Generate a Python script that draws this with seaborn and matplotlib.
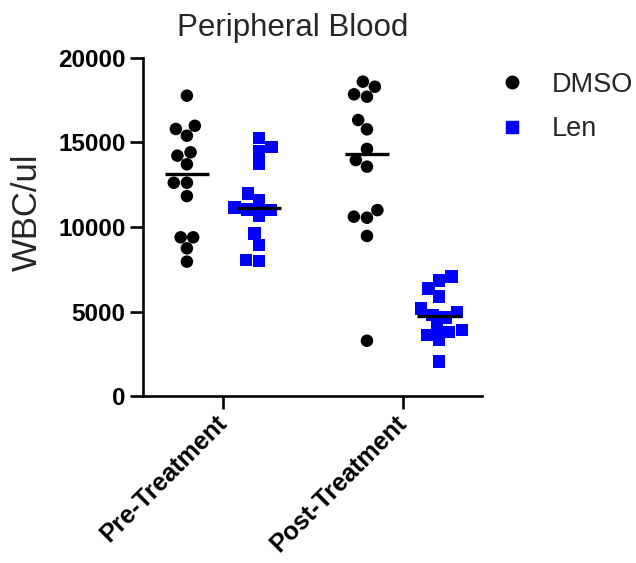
import matplotlib
matplotlib.use("Agg")
import matplotlib.pyplot as plt
from matplotlib.lines import Line2D
import numpy as np
import pandas as pd
import seaborn as sns

# White blood cell counts per mouse (cells/ul)
timepoints = ["Pre-Treatment", "Post-Treatment"]
groups = ["DMSO", "Len"]
group_colors = {"DMSO": "#000000", "Len": "#0000FF"}
group_markers = {"DMSO": "o", "Len": "s"}

pre_dmso = [17770, 15990, 15800, 15400, 14420, 14220, 13710,
            12620, 12620, 11830, 9390, 9390, 8740, 7950]
post_dmso = [18600, 18300, 17850, 17710, 16330, 15780, 14620,
             13960, 13570, 11000, 10610, 10550, 9470, 3270]
pre_len = [15270, 14730, 14500, 13750, 11970, 11580, 11150,
           11050, 11000, 10690, 9630, 8930, 8050, 7990]
post_len = [7080, 6820, 6350, 5900, 5170, 4970, 4790,
            4650, 4070, 3900, 3800, 3610, 3330, 2030]

y_ticks = [0, 5000, 10000, 15000, 20000]

records = []
for tp, grp, vals in [("Pre-Treatment", "DMSO", pre_dmso),
                      ("Post-Treatment", "DMSO", post_dmso),
                      ("Pre-Treatment", "Len", pre_len),
                      ("Post-Treatment", "Len", post_len)]:
    for v in vals:
        records.append({"time": tp, "group": grp, "wbc": v})
df = pd.DataFrame(records)

sns.set_style("ticks")
plt.rcParams["font.family"] = ["Liberation Sans", "DejaVu Sans"]

fig = plt.figure(figsize=(6.36, 5.63), dpi=100)
ax = fig.add_axes([0.2248, 0.2966, 0.7579 - 0.2248, 0.897 - 0.2966])

# individual animals as a dodged swarm, one marker shape per group
for grp in groups:
    sns.swarmplot(data=df[df["group"] == grp], x="time", y="wbc",
                  hue="group", order=timepoints, hue_order=groups,
                  palette=group_colors, dodge=True, marker=group_markers[grp],
                  size=9, linewidth=0, legend=False, ax=ax, zorder=3)

# median bar for each group
sns.boxplot(data=df, x="time", y="wbc", hue="group", order=timepoints,
            hue_order=groups, palette=group_colors, dodge=True, gap=0.39,
            showfliers=False, showcaps=False, whis=0,
            boxprops={"visible": False}, whiskerprops={"visible": False},
            medianprops={"color": "black", "linewidth": 2.4, "zorder": 10},
            legend=False, ax=ax)

ax.set_xlim(-0.444, 1.439)
ax.set_ylim(0, 20000)
ax.set_yticks(y_ticks)
ax.set_yticklabels([str(t) for t in y_ticks])
ax.set_xlabel("")
ax.set_ylabel("")

for side in ["top", "right"]:
    ax.spines[side].set_visible(False)
for side in ["left", "bottom"]:
    ax.spines[side].set_linewidth(1.9)
    ax.spines[side].set_color("black")

ax.tick_params(axis="both", direction="out", length=9.5, width=1.9,
               colors="black", labelsize=17.5, pad=3)
ax.tick_params(axis="x", labelsize=18, pad=7)
for lab in ax.get_yticklabels():
    lab.set_fontweight("bold")
for lab in ax.get_xticklabels():
    lab.set_fontweight("bold")
    lab.set_rotation(45)
    lab.set_ha("right")
    lab.set_va("center")
    lab.set_rotation_mode("anchor")

fig.text(0.46, 1 - 36 / 563, "Peripheral Blood", ha="center",
         va="baseline", fontsize=22.5)
fig.text(27 / 636, 1 - 212 / 563, "WBC/ul", rotation=90, ha="center",
         va="center", fontsize=25)

handles = [Line2D([], [], linestyle="none", marker=group_markers[g],
                  color=group_colors[g], markersize=9) for g in groups]
ax.legend(handles, groups, loc="upper left", bbox_to_anchor=(1.0487, 0.96),
          frameon=False, fontsize=19.5, handlelength=1.0, handletextpad=0.98,
          labelspacing=0.7, borderpad=0, borderaxespad=0)

fig.savefig("out.png", dpi=100)
